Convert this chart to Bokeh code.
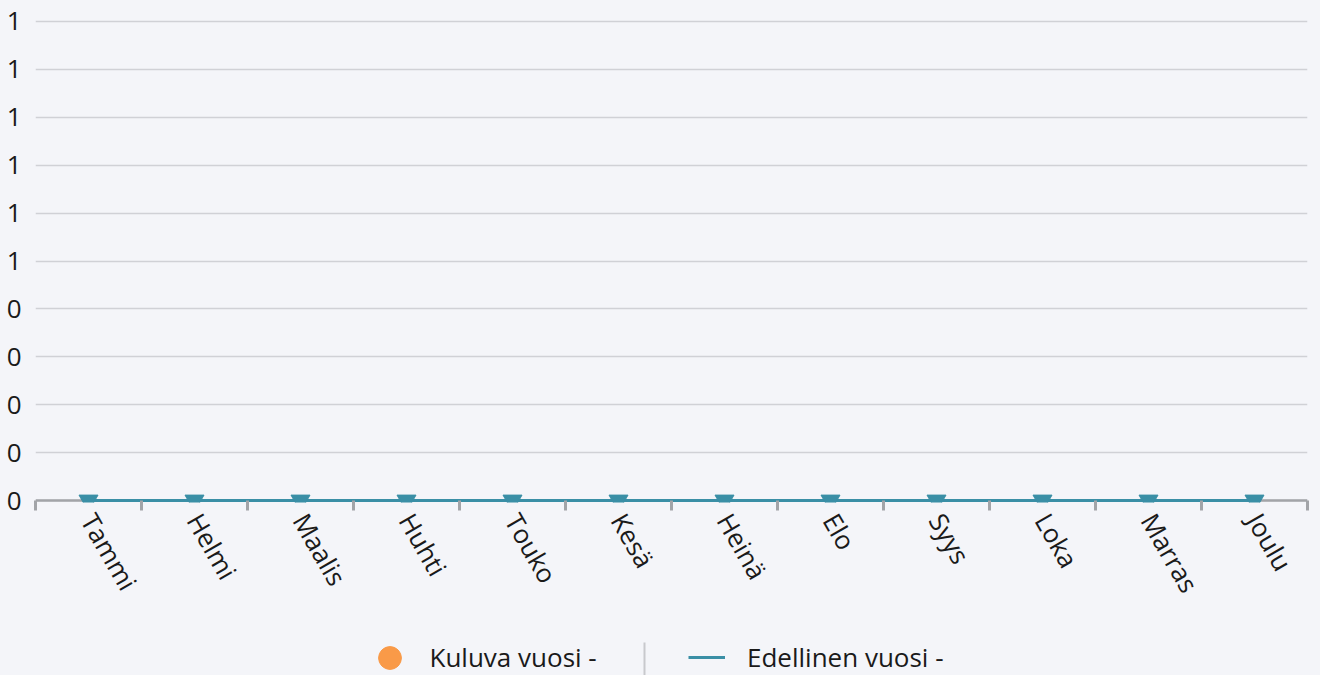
import math
from bokeh.plotting import figure
from bokeh.layouts import column
from bokeh.models import (Range1d, FixedTicker, CustomJSTickFormatter, Legend, LegendItem,
                          BoxAnnotation, Span)
from bokeh.embed import file_html
from bokeh.resources import INLINE

# ---- data ----
months = ["Tammi", "Helmi", "Maalis", "Huhti", "Touko", "Kesä",
          "Heinä", "Elo", "Syys", "Loka", "Marras", "Joulu"]
kuluva_vuosi = [None, None, None, None, None, None,
                None, None, None, None, None, None]
edellinen_vuosi = [0, 0, 0, 0, 0, 0, 0, 0, 0, 0, 0, 0]
y_ticks = [0, 0.1, 0.2, 0.3, 0.4, 0.5, 0.6, 0.7, 0.8, 0.9, 1.0]
series_names = ["Kuluva vuosi -", "Edellinen vuosi -"]

# ---- style ----
BG = "#f4f5f9"
TEAL = "#3a8fa6"
ORANGE = "#f99a48"
AXIS = "#a2a4a8"
TXT = "#1a1a1a"
FONT = "Open Sans"
FS = "26px"
PAD = 0.004  # small padding so lines at the range ends are not clipped

x_pos = [i + 0.5 for i in range(len(months))]
x_bounds = [i for i in range(len(months) + 1)]
kuluva_y = [float("nan") if v is None else v for v in kuluva_vuosi]

# ---- main chart ----
p = figure(width=1320, height=630, output_backend="svg", toolbar_location=None,
           x_range=Range1d(0, len(months)),
           y_range=Range1d(y_ticks[0] - PAD, y_ticks[-1] + PAD),
           min_border_left=35, min_border_right=13, min_border_top=19, min_border_bottom=128)
p.background_fill_color = BG
p.border_fill_color = BG
p.outline_line_color = None

p.xgrid.grid_line_color = None
p.ygrid.grid_line_color = "#d0d1d6"
p.ygrid.grid_line_width = 1.5

p.yaxis.ticker = FixedTicker(ticks=y_ticks)
p.yaxis.formatter = CustomJSTickFormatter(code="return Math.round(tick).toString()")
p.yaxis.axis_line_color = None
p.yaxis.major_tick_line_color = None
p.yaxis.minor_tick_line_color = None
p.yaxis.major_tick_out = 0
p.yaxis.major_tick_in = 0
p.yaxis.major_label_standoff = 14
p.yaxis.major_label_text_font = FONT
p.yaxis.major_label_text_font_size = FS
p.yaxis.major_label_text_color = TXT

p.xaxis.ticker = FixedTicker(ticks=x_pos, minor_ticks=x_bounds)
p.xaxis.formatter = CustomJSTickFormatter(args=dict(names=months),
                                          code="return names[Math.floor(tick)]")
p.xaxis.axis_line_color = None
p.xaxis.major_tick_line_color = None
p.xaxis.major_tick_out = 0
p.xaxis.major_tick_in = 0
p.xaxis.minor_tick_line_color = AXIS
p.xaxis.minor_tick_line_width = 3
p.xaxis.minor_tick_out = 8
p.xaxis.minor_tick_in = 2
p.xaxis.major_label_orientation = -math.pi / 3
p.xaxis.major_label_standoff = 5
p.xaxis.major_label_text_font = FONT
p.xaxis.major_label_text_font_size = FS
p.xaxis.major_label_text_color = TXT

baseline = Span(location=y_ticks[0], dimension="width", line_color=AXIS,
                line_width=2.5, level="underlay")
p.add_layout(baseline)

p.scatter(x_pos, kuluva_y, marker="circle", size=20, color=ORANGE)
p.line(x_pos, edellinen_vuosi, line_color=TEAL, line_width=3)
p.scatter(x_pos, edellinen_vuosi, marker="inverted_triangle", size=19,
          fill_color=TEAL, line_color=TEAL)

# ---- legend strip ----
lg = figure(width=1320, height=45, output_backend="svg", toolbar_location=None,
            x_range=Range1d(0, len(months)), y_range=Range1d(1, 2),
            min_border_left=0, min_border_right=0, min_border_top=0, min_border_bottom=0,
            x_axis_type=None, y_axis_type=None)
lg.background_fill_color = BG
lg.border_fill_color = BG
lg.outline_line_color = None
lg.grid.visible = False

# legend renderers (same series, outside the strip's visible y range)
r_kul = lg.scatter(x_pos, kuluva_y, marker="circle", size=20, color=ORANGE)
r_ede = lg.line(x_pos, edellinen_vuosi, line_color=TEAL, line_width=3)

common = dict(padding=0, margin=0, border_line_color=None, background_fill_alpha=0,
              label_text_font=FONT, label_text_font_size=FS, label_text_color=TXT)
leg1 = Legend(items=[LegendItem(label=series_names[0], renderers=[r_kul])],
              location=(325.5, -10.5), glyph_width=57, glyph_height=57,
              label_standoff=12, **common)
leg2 = Legend(items=[LegendItem(label=series_names[1], renderers=[r_ede])],
              location=(653, 0), glyph_width=37, glyph_height=36, label_height=36,
              label_standoff=22, **common)
lg.add_layout(leg1)
lg.add_layout(leg2)

sep = BoxAnnotation(left=608, right=610, top=33, bottom=-5,
                    left_units="screen", right_units="screen",
                    top_units="screen", bottom_units="screen",
                    fill_color="#c8c9cd", fill_alpha=1, line_color=None)
lg.add_layout(sep)

layout = column(p, lg, spacing=0, styles={"background-color": BG})
open("out.html", "w").write(file_html(layout, INLINE))
